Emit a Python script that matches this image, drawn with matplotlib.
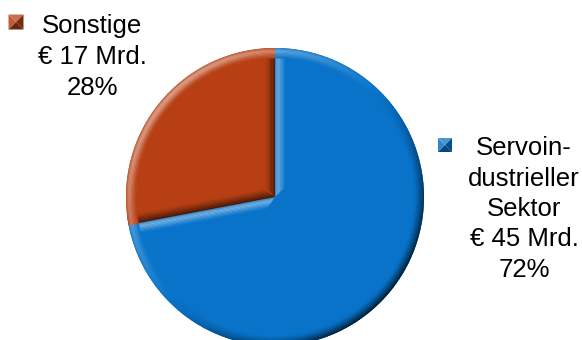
import numpy as np
import matplotlib.pyplot as plt
from matplotlib.patches import Wedge, Polygon
from matplotlib.colors import to_rgb

# Umsatzverteilung
segmente = ["Servoin-\ndustrieller\nSektor", "Sonstige"]
umsatz_mrd = [45, 17]
anteil_pct = [72, 28]
farben = ["#0873c9", "#b73f13"]

W, H = 582, 340
fig = plt.figure(figsize=(W / 100, H / 100), dpi=100)
ax = fig.add_axes([0, 0, 1, 1])

cx, cy, r = 275, H - 197, 149
bevel = 10
baender = 8
licht = np.deg2rad(135)  # Licht von oben links


def shade(farbe, hell):
    c = np.array(to_rgb(farbe))
    if hell >= 0:
        return tuple(c + (1 - c) * 0.5 * hell)
    return tuple(c * (1 + 0.8 * hell))


def profil(j, hell):
    # Lichtkante rundlich, Schattenkante zum Rand hin am dunkelsten
    t = (j + 0.5) / baender
    if hell >= 0:
        return hell * np.sin(np.pi * min(1.0, t * 1.4)) ** 0.6 if t < 0.36 else hell * (1 - t) / 0.64
    return hell * (1 - t) ** 1.2


wedges, _ = ax.pie(anteil_pct, colors=farben, startangle=90, counterclock=False,
                   center=(cx, cy), radius=r, wedgeprops=dict(linewidth=0))

for w, farbe in zip(wedges, farben):
    t1, t2 = w.theta1, w.theta2
    c0 = np.array([cx, cy])
    # abgeschraegte Kanten entlang der Radien
    for th, sgn in ((t1, -1), (t2, 1)):
        a = np.deg2rad(th)
        u = np.array([np.cos(a), np.sin(a)])
        n = np.array([np.cos(a + sgn * np.pi / 2), np.sin(a + sgn * np.pi / 2)])
        hell = np.cos(np.arctan2(n[1], n[0]) - licht)
        for j in range(baender):
            d0 = bevel * j / baender
            d1 = bevel * (j + 1) / baender + 0.3
            pts = [c0 - d0 * n + d0 * u, c0 + r * u - d0 * n,
                   c0 + r * u - d1 * n, c0 - d1 * n + d1 * u]
            ax.add_patch(Polygon(pts, closed=True,
                                 facecolor=shade(farbe, profil(j, hell)),
                                 edgecolor="none"))
    # abgeschraegter Rand
    schritte = np.linspace(t1, t2, int(abs(t2 - t1)) + 2)
    for a0, a1 in zip(schritte[:-1], schritte[1:]):
        hell = np.cos(np.deg2rad((a0 + a1) / 2) - licht)
        for j in range(baender):
            ax.add_patch(Wedge((cx, cy), r - bevel * j / baender, a0, a1 + 0.3,
                               width=bevel / baender + 0.3,
                               facecolor=shade(farbe, profil(j, hell)),
                               edgecolor="none"))


def marker(x, y, farbe, s=15):
    # kleines Legendenquadrat mit Abschraegung
    x0, x1, y0, y1 = x - s / 2, x + s / 2, y - s / 2, y + s / 2
    m = (x, y)
    seiten = [((x0, y1), (x1, y1), 0.5), ((x0, y0), (x0, y1), 0.3),
              ((x1, y0), (x1, y1), -0.4), ((x0, y0), (x1, y0), -0.5)]
    for p, q, hell in seiten:
        ax.add_patch(Polygon([p, q, m], closed=True,
                             facecolor=shade(farbe, hell), edgecolor="none"))


txt = dict(fontsize=18.5, family="Liberation Sans", color="black", ha="center",
           va="baseline")

# Beschriftung Sonstige
marker(16, H - 22, farben[1])
zeilen = [segmente[1], f"€ {umsatz_mrd[1]} Mrd.", f"{anteil_pct[1]}%"]
for i, z in enumerate(zeilen):
    ax.text(92, H - (33 + 31 * i), z, **txt)

# Beschriftung Servoindustrieller Sektor
marker(445, H - 145, farben[0], s=14)
zeilen = segmente[0].split("\n") + [f"€ {umsatz_mrd[0]} Mrd.", f"{anteil_pct[0]}%"]
for i, z in enumerate(zeilen):
    ax.text(524, H - (155 + 30.5 * i), z, **txt)

ax.set_xlim(0, W)
ax.set_ylim(0, H)
ax.set_aspect("equal")
ax.axis("off")

fig.savefig("out.png", dpi=100)
